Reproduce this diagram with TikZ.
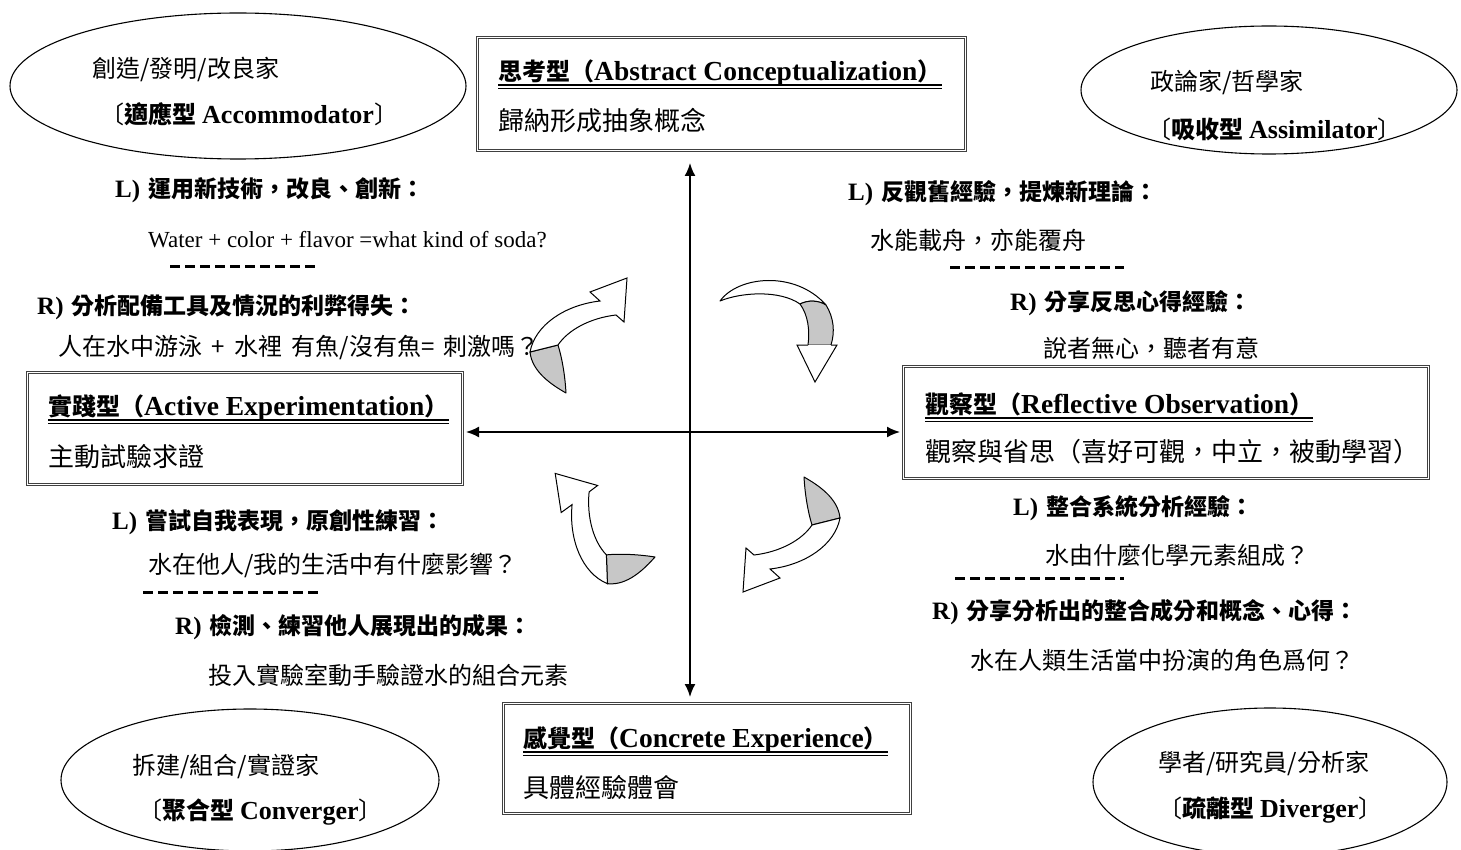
\documentclass[tikz,border=0pt]{standalone}
\usepackage{fontspec}
\setmainfont{Liberation Serif}
\newfontfamily\cjk{Noto Sans CJK TC}
\usetikzlibrary{arrows.meta,shapes.geometric}
\newcommand\lbl[2]{{\bfseries\fontsize{25}{28}\selectfont #1}\hspace{0.35em}{\cjk\bfseries #2}}
\newcommand\ttl[2]{{\cjk\bfseries #1（}{\bfseries\fontsize{27.5}{30}\selectfont #2}{\cjk\bfseries ）}}
\newcommand\ovl[2]{{\cjk 〔}{\cjk\bfseries #1} {\bfseries\fontsize{26}{30}\selectfont #2}{\cjk 〕}}
% ribbon arrow in local coordinates: shaded tail point at origin
\newcommand\ribbonarrow{%
  \filldraw[fill=black!22, line width=1pt, line join=round]
    (-36,-41) .. controls (-34,-21) and (-14,-8) .. (0,0)
    .. controls (-1,-18) and (-4,-35) .. (-8,-48) -- cycle;
  \filldraw[fill=white, line width=1pt, line join=miter]
    (-36,-41) .. controls (-31,-68) and (-1,-88) .. (34,-92)
    -- (24,-101) -- (61,-115) -- (58,-71) -- (50,-78)
    .. controls (24,-75) and (2,-63) .. (-8,-48) -- cycle;
}
\begin{document}
\begin{tikzpicture}[x=1pt,y=-1pt,
  box/.style={draw=black!75, double=white, double distance=1.2pt, line width=0.7pt,
              anchor=north west, inner sep=0pt},
  oval/.style={draw, ellipse, line width=1.1pt, inner sep=0pt},
  title/.style={anchor=west, inner sep=0pt, font=\fontsize{24}{28}\selectfont},
  desc/.style={anchor=west, inner sep=0pt, font=\fontsize{26}{30}\selectfont\cjk},
  body/.style={anchor=west, inner sep=0pt, font=\fontsize{24}{28}\selectfont\cjk},
  latin/.style={anchor=west, inner sep=0pt, font=\fontsize{23}{28}\selectfont},
  lab/.style={anchor=west, inner sep=0pt, font=\fontsize{23}{27}\selectfont},
  otext/.style={anchor=west, inner sep=0pt, font=\fontsize{24}{28}\selectfont},
  sep/.style={line width=3pt, dash pattern=on 10pt off 5pt},
  axis/.style={line width=1.8pt, {Latex[length=13pt,width=11pt]}-{Latex[length=13pt,width=11pt]}},
  uthick/.style={line width=2.2pt},
  uthin/.style={line width=0.9pt},
  rib/.style={line width=1pt, line join=round},
  ribgray/.style={rib, fill=black!22}
]
\useasboundingbox (0,0) rectangle (1461,850);
\clip (0,0) rectangle (1461,850);

% ---------- boxes ----------
\node[box, minimum width=488pt, minimum height=113pt] (ac) at (477,37) {};
\node[box, minimum width=435pt, minimum height=112pt] (ae) at (27,372) {};
\node[box, minimum width=525pt, minimum height=112pt] (ro) at (903,366) {};
\node[box, minimum width=407pt, minimum height=110pt] (ce) at (503,703) {};

\node[title] (act) at (498,73) {\ttl{思考型}{Abstract Conceptualization}};
\node[desc]  (acd) at (498,121) {歸納形成抽象概念};
\node[title] (aet) at (48,408) {\ttl{實踐型}{Active Experimentation}};
\node[desc]  (aed) at (48,457) {主動試驗求證};
\node[title] (rot) at (925,404) {\ttl{觀察型}{Reflective Observation}};
\node[desc]  (rod) at (925,452) {觀察與省思（喜好可觀，中立，被動學習）};
\node[title] (cet) at (523,740) {\ttl{感覺型}{Concrete Experience}};
\node[desc]  (ced) at (523,788) {具體經驗體會};

\foreach \t in {act,aet,rot,cet}{
  \draw[uthick] ([yshift=-4.5pt]\t.base west) -- ([yshift=-4.5pt]\t.base east);
  \draw[uthin]  ([yshift=-8pt]\t.base west) -- ([yshift=-8pt]\t.base east);
}

% ---------- ellipses ----------
\node[oval, minimum width=456pt, minimum height=146pt] (acc) at (238,86) {};
\node[otext] (acc1) at (92,69) {\cjk 創造/發明/改良家};
\node[otext] (acc2) at (100,114) {\ovl{適應型}{Accommodator}};

\node[oval, minimum width=376pt, minimum height=128pt] (asm) at (1269,90) {};
\node[otext] (asm1) at (1150,82) {\cjk 政論家/哲學家};
\node[otext] (asm2) at (1147,129) {\ovl{吸收型}{Assimilator}};

\node[oval, minimum width=378pt, minimum height=142pt] (cnv) at (250,780) {};
\node[otext] (cnv1) at (132,766) {\cjk 拆建/組合/實證家};
\node[otext] (cnv2) at (138,812) {\ovl{聚合型}{Converger}};

\node[oval, minimum width=354pt, minimum height=148pt] (dvg) at (1270,782) {};
\node[otext] (dvg1) at (1158,763) {\cjk 學者/研究員/分析家};
\node[otext] (dvg2) at (1158,810) {\ovl{疏離型}{Diverger}};

% ---------- axes ----------
\coordinate (vt) at (690,163);
\coordinate (vb) at (690,697);
\coordinate (hl) at (466,432);
\coordinate (hr) at (900,432);
\draw[axis] (vt) -- (vb);
\draw[axis] (hl) -- (hr);

% ---------- quadrant texts ----------
\node[lab]   (q1a) at (115,190) {\lbl{L)}{運用新技術，改良、創新：}};
\node[latin] (q1b) at (148,240) {Water + color + flavor =what kind of soda?};
\draw[sep] (170,267) -- (316,267);
\node[lab]   (q1c) at (37,307) {\lbl{R)}{分析配備工具及情況的利弊得失：}};
\node[body]  (q1d) at (58,348) {人在水中游泳 \,+\, 水裡 \,有魚/沒有魚= \,刺激嗎？};

\node[lab]   (q2a) at (848,193) {\lbl{L)}{反觀舊經驗，提煉新理論：}};
\node[body]  (q2b) at (870,240) {水能載舟，亦能覆舟};
\draw[sep] (950,268) -- (1124,268);
\node[lab]   (q2c) at (1010,303) {\lbl{R)}{分享反思心得經驗：}};
\node[body]  (q2d) at (1043,348) {說者無心，聽者有意};

\node[lab]   (q3a) at (112,522) {\lbl{L)}{嘗試自我表現，原創性練習：}};
\node[body]  (q3b) at (148,565) {水在他人/我的生活中有什麼影響？};
\draw[sep] (143,592) -- (318,592);
\node[lab]   (q3c) at (175,627) {\lbl{R)}{檢測、練習他人展現出的成果：}};
\node[body]  (q3d) at (208,675) {投入實驗室動手驗證水的組合元素};

\node[lab]   (q4a) at (1013,508) {\lbl{L)}{整合系統分析經驗：}};
\node[body]  (q4b) at (1045,555) {水由什麼化學元素組成？};
\draw[sep] (955,578) -- (1124,578);
\node[lab]   (q4c) at (932,612) {\lbl{R)}{分享分析出的整合成分和概念、心得：}};
\node[body]  (q4d) at (970,660) {水在人類生活當中扮演的角色爲何？};

% ---------- curved arrows ----------
% top-left
\begin{scope}[shift={(566,393)}]\ribbonarrow\end{scope}
% top-right: arch from pointed tail at left, shaded leg on the right, head down
\filldraw[rib, fill=white]
  (720,301) .. controls (738,276) and (795,270) .. (826,305)
  .. controls (818,300) and (808,300) .. (800,304)
  .. controls (780,290) and (742,292) .. (720,301) -- cycle;
\filldraw[ribgray]
  (800,304) .. controls (808,300) and (818,300) .. (826,305)
  .. controls (834,318) and (835,332) .. (831,345)
  -- (808,345) .. controls (810,330) and (808,315) .. (800,304) -- cycle;
\path[fill=white] (808,345) -- (797,345) -- (815,382) -- (837,345) -- (831,345) -- cycle;
\draw[rib, line join=miter] (808,345) -- (797,345) -- (815,382) -- (837,345) -- (831,345);
% bottom-right
\begin{scope}[shift={(804,477)}, rotate=180]\ribbonarrow\end{scope}
% bottom-left
\begin{scope}[shift={(655,557)}, rotate=78]\ribbonarrow\end{scope}
\end{tikzpicture}
\end{document}
